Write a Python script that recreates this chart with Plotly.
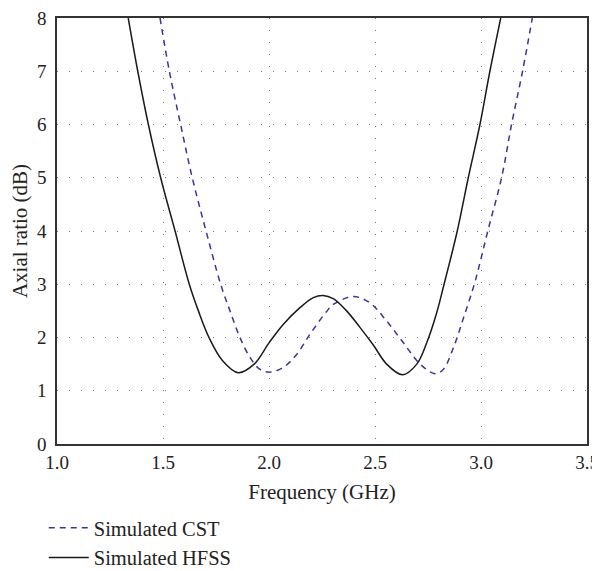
import plotly.graph_objects as go

hfss_f = [1.336, 1.381, 1.431, 1.489, 1.557, 1.624, 1.667, 1.717, 1.78,
          1.855, 1.93, 2.0, 2.068, 2.146, 2.209, 2.255, 2.303, 2.366,
          2.429, 2.492, 2.555, 2.63, 2.697, 2.744, 2.79, 2.822, 2.888, 2.94,
          2.995, 3.042, 3.093]
hfss_ar = [8.0, 7.0, 6.0, 5.0, 4.0, 3.0, 2.5, 2.0, 1.57,
           1.34, 1.50, 1.90, 2.25, 2.56, 2.75, 2.79, 2.73, 2.50,
           2.19, 1.86, 1.50, 1.30, 1.50, 1.90, 2.45, 2.94, 4.0, 5.0,
           6.0, 7.0, 8.0]

cst_f = [1.486, 1.530, 1.583, 1.638, 1.703, 1.772, 1.816, 1.863, 1.91, 1.958,
         2.005, 2.068, 2.13, 2.193, 2.272, 2.303, 2.398, 2.476, 2.555, 2.634,
         2.713, 2.783, 2.822, 2.87, 2.916, 2.972, 3.032, 3.097, 3.144, 3.196,
         3.242]
cst_ar = [8.0, 7.0, 6.0, 5.0, 4.0, 3.0, 2.5, 2.0, 1.63, 1.40,
          1.35, 1.44, 1.68, 2.06, 2.49, 2.62, 2.77, 2.65, 2.31, 1.90,
          1.50, 1.32, 1.40, 1.81, 2.35, 3.05, 4.0, 5.0, 6.0, 7.0,
          8.0]

x_ticks = [1.0, 1.5, 2.0, 2.5, 3.0, 3.5]
y_ticks = [0, 1, 2, 3, 4, 5, 6, 7, 8]

font_family = "Liberation Serif, Times New Roman, serif"

fig = go.Figure()
fig.add_trace(go.Scatter(x=cst_f, y=cst_ar, mode="lines", name="Simulated CST",
                         line=dict(color="#3d3596", width=1.5, dash="6px,5px",
                                   shape="spline", smoothing=1.0)))
fig.add_trace(go.Scatter(x=hfss_f, y=hfss_ar, mode="lines", name="Simulated HFSS",
                         line=dict(color="#1a1a1a", width=1.5,
                                   shape="spline", smoothing=1.0)))

axis_common = dict(showline=True, mirror=True, linecolor="#333333", linewidth=1.5,
                   showgrid=True, gridcolor="#7a7a7a", gridwidth=1, griddash="1px,11px",
                   zeroline=False, ticks="", automargin=False, ticklabeloverflow="allow",
                   tickfont=dict(family=font_family, size=19, color="#222"))

# the page body has an 8px margin, so the figure is sized to fit the window
fig.update_layout(
    width=592, height=563,
    margin=dict(l=49, r=13, t=10, b=127, autoexpand=False),
    paper_bgcolor="white", plot_bgcolor="white",
    font=dict(family=font_family, size=19, color="#222"),
    xaxis=dict(range=[1.0, 3.5], tickvals=x_ticks,
               ticktext=[f"{v:.1f}" for v in x_ticks],
               ticklabelstandoff=0,
               title=dict(text="Frequency (GHz)", font=dict(family=font_family, size=21),
                          standoff=13),
               **axis_common),
    yaxis=dict(range=[0, 8], tickvals=y_ticks,
               ticktext=[str(v) for v in y_ticks],
               ticklabelstandoff=5,
               title=dict(text="Axial ratio (dB)", font=dict(family=font_family, size=21),
                          standoff=8),
               **axis_common),
    legend=dict(x=-0.025, xanchor="left", yref="container", y=0.112, yanchor="top",
                font=dict(family=font_family, size=20.5, color="#222"),
                bgcolor="rgba(0,0,0,0)", tracegroupgap=0, itemwidth=40),
    showlegend=True,
)

fig.write_html("out.html")
